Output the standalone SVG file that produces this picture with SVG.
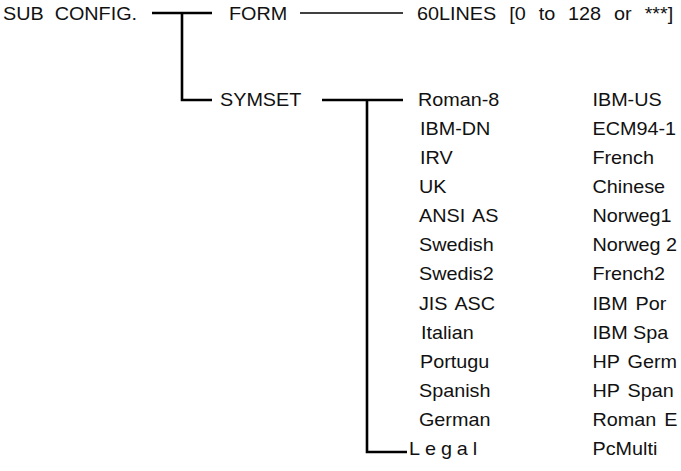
<svg xmlns="http://www.w3.org/2000/svg" width="681" height="471" viewBox="0 0 681 471" xml:space="preserve">
<style>
  text { font-family: "Liberation Sans", Arial, sans-serif; font-size: 18px; fill: #111; white-space: pre; }
  .thick { stroke: #000; stroke-width: 2.6; fill: none; stroke-linecap: butt; }
  .thin { stroke: #000; stroke-width: 1.4; fill: none; }
  .spaced { letter-spacing: 4.5px; }
  .wide { word-spacing: 0.9px; }
  .gap { word-spacing: 2.2px; }
</style>
<rect width="681" height="471" fill="#fff"/>
<g id="connectors">
  <path class="thick" d="M152 13 H212 M182 13 V100 H212"/>
  <path class="thin" d="M300 13 H403"/>
  <path class="thick" d="M322 100 H403 M367 100 V452 H407"/>
</g>
<g id="nodes" transform="scale(1.1 1)">
  <g id="sub-config"><text x="2.7" y="20">SUB  CONFIG.</text></g>
  <g id="form"><text x="208.2" y="20">FORM</text></g>
  <g id="lines"><text class="wide" x="379.1" y="20">60LINES  [0  to  128  or  ***]</text></g>
  <g id="symset"><text x="200" y="106">SYMSET</text></g>
  <g id="left-list">
    <g id="roman-8"><text x="380" y="106">Roman-8</text></g>
    <g id="ibm-dn"><text x="381.8" y="135.1">IBM-DN</text></g>
    <g id="irv"><text x="381.8" y="164.2">IRV</text></g>
    <g id="uk"><text x="380.9" y="193.2">UK</text></g>
    <g id="ansi-as"><text class="gap" x="380.9" y="222.3">ANSI AS</text></g>
    <g id="swedish"><text x="380.9" y="251.4">Swedish</text></g>
    <g id="swedis2"><text x="380.9" y="280.5">Swedis2</text></g>
    <g id="jis-asc"><text class="gap" x="380.9" y="309.6">JIS ASC</text></g>
    <g id="italian"><text x="382.7" y="338.6">Italian</text></g>
    <g id="portugu"><text x="381.8" y="367.7">Portugu</text></g>
    <g id="spanish"><text x="380.9" y="396.8">Spanish</text></g>
    <g id="german"><text x="380.9" y="425.9">German</text></g>
    <g id="legal"><text class="spaced" x="371.8" y="455">Legal</text></g>
  </g>
  <g id="right-list">
    <g id="ibm-us"><text x="538.6" y="106">IBM-US</text></g>
    <g id="ecm94-1"><text x="538.6" y="135.1">ECM94-1</text></g>
    <g id="french"><text x="538.6" y="164.2">French</text></g>
    <g id="chinese"><text x="538.6" y="193.2">Chinese</text></g>
    <g id="norweg1"><text x="538.6" y="222.3">Norweg1</text></g>
    <g id="norweg2"><text x="538.6" y="251.4">Norweg 2</text></g>
    <g id="french2"><text x="538.6" y="280.5">French2</text></g>
    <g id="ibm-por"><text class="gap" x="538.6" y="309.6">IBM Por</text></g>
    <g id="ibm-spa"><text x="538.6" y="338.6">IBM Spa</text></g>
    <g id="hp-germ"><text class="gap" x="538.6" y="367.7">HP Germ</text></g>
    <g id="hp-span"><text class="gap" x="538.6" y="396.8">HP Span</text></g>
    <g id="roman-e"><text class="gap" x="538.6" y="425.9">Roman E</text></g>
    <g id="pcmulti"><text x="538.6" y="455">PcMulti</text></g>
  </g>
</g>
</svg>
